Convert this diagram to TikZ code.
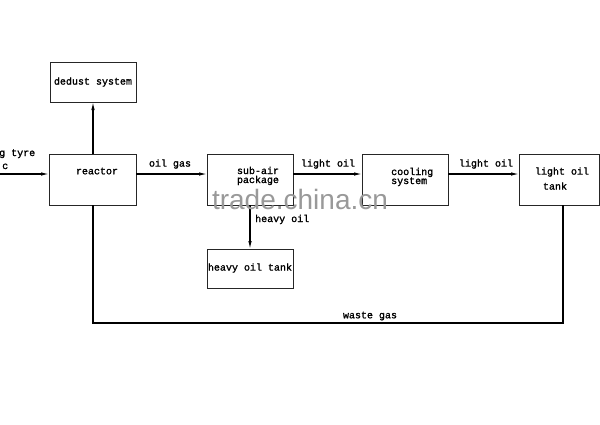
\documentclass[tikz,border=0pt]{standalone}
\usepackage{fontspec}
\setmainfont{Liberation Mono}[AutoFakeBold=1.5]
\newfontfamily\wmfont{Liberation Sans}
\usetikzlibrary{arrows.meta}
\begin{document}
\begin{tikzpicture}[x=1pt,y=-1pt,
  box/.style={draw=black!85,line width=1pt},
  lbl/.style={inner sep=0pt,font=\bfseries\fontsize{10}{10}\selectfont},
  flow/.style={line width=1.1pt,-{Latex[length=8pt,width=3.5pt]}},
  line/.style={line width=1.1pt}]
\useasboundingbox (0,0) rectangle (600,424);
% boxes
\draw[box] (50,62) rectangle (136,102);
\coordinate (dedustS) at (93,102);
\draw[box] (49,154) rectangle (136,205);
\draw[box] (207,154) rectangle (293,205);
\draw[box] (362,154) rectangle (448,205);
\draw[box] (519,154) rectangle (599,205);
\draw[box] (207,249) rectangle (293,288);
% named anchor points
\coordinate (inL) at (0,174);
\coordinate (reacW) at (49,174);
\coordinate (reacE) at (136,174);
\coordinate (reacN) at (93,154);
\coordinate (reacS) at (93,205);
\coordinate (subW) at (207,174);
\coordinate (subE) at (293,174);
\coordinate (subS) at (250,205);
\coordinate (coolW) at (362,174);
\coordinate (coolE) at (448,174);
\coordinate (tankW) at (519,174);
\coordinate (tankS) at (563,205);
\coordinate (hvyN) at (250,249);
\coordinate (c1) at (563,323);
\coordinate (c2) at (93,323);
% texts
\node[lbl] (tdedust) at (93,82) {dedust system};
\node[lbl] (treac) at (97,171) {reactor};
\node[lbl,anchor=base west] (tin1) at (-1,156) {g tyre};
\node[lbl,anchor=base west] (tin2) at (2,169) {c};
\node[lbl] (toil) at (170,164) {oil gas};
\node[lbl,anchor=base] (tsub1) at (258,174) {sub-air};
\node[lbl,anchor=base] (tsub2) at (258,183) {package};
\node[lbl] (tlo1) at (328,164) {light oil};
\node[lbl,anchor=base west] (tcool1) at (391,175) {cooling};
\node[lbl,anchor=base west] (tcool2) at (391,184) {system};
\node[lbl] (tlo2) at (486,164) {light oil};
\node[lbl] (ttank1) at (562,172) {light oil};
\node[lbl] (ttank2) at (555,186) {tank};
\node[lbl,anchor=base west] (thvy) at (255,222) {heavy oil};
\node[lbl] (thvytank) at (250,268) {heavy oil tank};
\node[lbl] (twaste) at (370,316) {waste gas};
% connectors
\draw[flow] (inL) -- (reacW);
\draw[flow] (reacN) -- (dedustS);
\draw[flow] (reacE) -- (subW);
\draw[flow] (subE) -- (coolW);
\draw[flow] (coolE) -- (tankW);
\draw[flow] (subS) -- (hvyN);
\draw[line] (tankS) -- (c1) -- (c2) -- (reacS);
% watermark
\node[inner sep=0pt,text=black!40,font=\wmfont\fontsize{28}{28}\selectfont] (wm) at (300,199) {trade.china.cn};
\end{tikzpicture}
\end{document}
